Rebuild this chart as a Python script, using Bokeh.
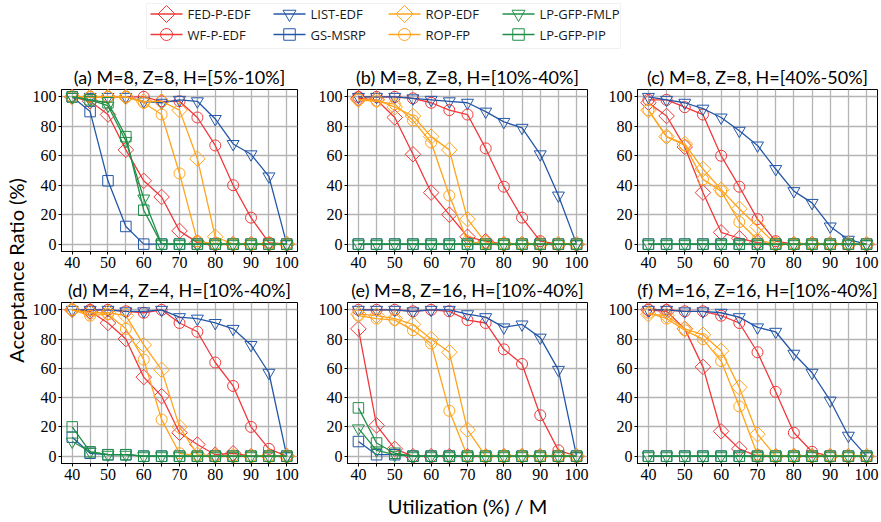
import math
from bokeh.plotting import figure
from bokeh.layouts import column, row
from bokeh.models import FixedTicker, Range1d, BoxAnnotation
from bokeh.embed import file_html
from bokeh.resources import INLINE
from bokeh.core.properties import value

# ---------------- data ----------------
utilization = [40, 45, 50, 55, 60, 65, 70, 75, 80, 85, 90, 95, 100]
x_tick_labels = [40, 50, 60, 70, 80, 90, 100]
x_minor_ticks = [45, 55, 65, 75, 85, 95]
y_tick_labels = [0, 20, 40, 60, 80, 100]

series_names = ["FED-P-EDF", "WF-P-EDF", "LIST-EDF", "GS-MSRP",
                "ROP-EDF", "ROP-FP", "LP-GFP-FMLP", "LP-GFP-PIP"]
panel_titles = ["(a) M=8, Z=8, H=[5%-10%]", "(b) M=8, Z=8, H=[10%-40%]",
                "(c) M=8, Z=8, H=[40%-50%]", "(d) M=4, Z=4, H=[10%-40%]",
                "(e) M=8, Z=16, H=[10%-40%]", "(f) M=16, Z=16, H=[10%-40%]"]

zeros = [0] * 13

# (a)
a_fed = [100, 97, 88, 64, 43, 32, 9, 1, 0, 0, 0, 0, 0]
a_wf = [100, 100, 100, 100, 100, 97, 97, 86, 67, 40, 18, 1, 0]
a_list = [100, 100, 100, 100, 97, 96, 98, 97, 85, 68, 61, 46, 0]
a_gs = [100, 90, 43, 12, 0, 0, 0, 0, 0, 0, 0, 0, 0]
a_rop_edf = [100, 100, 100, 100, 97, 97, 91, 58, 5, 0, 0, 0, 0]
a_rop_fp = [100, 100, 100, 100, 96, 88, 48, 2, 0, 0, 0, 0, 0]
a_fmlp = [100, 98, 94, 70, 31, 0, 0, 0, 0, 0, 0, 0, 0]
a_pip = [100, 98, 96, 73, 23, 0, 0, 0, 0, 0, 0, 0, 0]
# (b)
b_fed = [99, 98, 86, 61, 35, 20, 5, 2, 0, 0, 0, 0, 0]
b_wf = [100, 100, 100, 99, 96, 91, 88, 65, 39, 18, 2, 0, 0]
b_list = [100, 100, 100, 99, 98, 97, 96, 90, 83, 79, 61, 33, 0]
b_gs = zeros
b_rop_edf = [98, 98, 93, 87, 73, 64, 17, 1, 0, 0, 0, 0, 0]
b_rop_fp = [98, 97, 95, 84, 69, 33, 2, 0, 0, 0, 0, 0, 0]
b_fmlp = zeros
b_pip = zeros
# (c)
c_fed = [96, 87, 66, 35, 8, 4, 1, 0, 0, 0, 0, 0, 0]
c_wf = [98, 98, 93, 88, 60, 39, 17, 2, 0, 0, 0, 0, 0]
c_list = [100, 98, 96, 92, 86, 77, 67, 51, 36, 28, 12, 3, 0]
c_gs = zeros
c_rop_edf = [91, 73, 68, 51, 37, 24, 12, 0, 0, 0, 0, 0, 0]
c_rop_fp = [91, 73, 67, 44, 36, 15, 3, 0, 0, 0, 0, 0, 0]
c_fmlp = zeros
c_pip = zeros
# (d)
d_fed = [100, 99, 91, 80, 54, 41, 16, 8, 1, 2, 0, 0, 0]
d_wf = [100, 100, 100, 99, 98, 100, 91, 85, 64, 48, 20, 5, 0]
d_list = [100, 100, 100, 99, 99, 100, 95, 94, 91, 87, 76, 57, 0]
d_gs = [13, 2, 1, 1, 0, 0, 0, 0, 0, 0, 0, 0, 0]
d_rop_edf = [100, 98, 98, 96, 76, 59, 20, 1, 0, 0, 0, 0, 0]
d_rop_fp = [100, 96, 97, 87, 66, 25, 2, 0, 0, 0, 0, 0, 0]
d_fmlp = [10, 3, 1, 1, 0, 0, 0, 0, 0, 0, 0, 0, 0]
d_pip = [20, 3, 1, 1, 0, 0, 0, 0, 0, 0, 0, 0, 0]
# (e)
e_fed = [87, 21, 5, 0, 0, 0, 0, 0, 0, 0, 0, 0, 0]
e_wf = [100, 100, 100, 99, 100, 99, 93, 91, 73, 63, 28, 4, 0]
e_list = [100, 100, 100, 99, 100, 100, 97, 95, 88, 90, 81, 59, 0]
e_gs = [10, 1, 1, 0, 0, 0, 0, 0, 0, 0, 0, 0, 0]
e_rop_edf = [97, 96, 94, 90, 80, 71, 18, 0, 0, 0, 0, 0, 0]
e_rop_fp = [96, 94, 93, 86, 77, 31, 0, 0, 0, 0, 0, 0, 0]
e_fmlp = [19, 4, 1, 0, 0, 0, 0, 0, 0, 0, 0, 0, 0]
e_pip = [33, 9, 2, 0, 0, 0, 0, 0, 0, 0, 0, 0, 0]
# (f)
f_fed = [100, 99, 87, 61, 17, 5, 0, 0, 0, 0, 0, 0, 0]
f_wf = [100, 100, 99, 99, 96, 91, 71, 44, 16, 3, 0, 0, 0]
f_list = [100, 100, 99, 99, 98, 95, 88, 85, 70, 57, 38, 14, 0]
f_gs = zeros
f_rop_edf = [97, 96, 87, 83, 72, 47, 15, 0, 0, 0, 0, 0, 0]
f_rop_fp = [98, 94, 86, 80, 65, 34, 1, 0, 0, 0, 0, 0, 0]
f_fmlp = zeros
f_pip = zeros

panels = [
    [a_fed, a_wf, a_list, a_gs, a_rop_edf, a_rop_fp, a_fmlp, a_pip],
    [b_fed, b_wf, b_list, b_gs, b_rop_edf, b_rop_fp, b_fmlp, b_pip],
    [c_fed, c_wf, c_list, c_gs, c_rop_edf, c_rop_fp, c_fmlp, c_pip],
    [d_fed, d_wf, d_list, d_gs, d_rop_edf, d_rop_fp, d_fmlp, d_pip],
    [e_fed, e_wf, e_list, e_gs, e_rop_edf, e_rop_fp, e_fmlp, e_pip],
    [f_fed, f_wf, f_list, f_gs, f_rop_edf, f_rop_fp, f_fmlp, f_pip],
]

# ---------------- styles ----------------
RED = "#f0393b"
BLUE = "#2457a8"
ORANGE = "#ffa41c"
GREEN = "#1f8f47"
Q = math.pi / 4
styles = [  # color, marker, size, angle
    (RED, "square", 11, Q),
    (RED, "circle", 11, 0),
    (BLUE, "inverted_triangle", 12, 0),
    (BLUE, "square", 10.5, 0),
    (ORANGE, "square", 11, Q),
    (ORANGE, "circle", 11, 0),
    (GREEN, "inverted_triangle", 12, 0),
    (GREEN, "square", 10.5, 0),
]

TICK_FONT = "Liberation Serif"
SANS = "Lato"
GRID = "#b4b4b4"

FRAME_W = 240
FRAME_HS = [162, 161]
TOP_B = 27
BOT_B = 24
col_borders = [(28, 12), (38, 12), (38, 3)]
YLAB_W = 29
LEG_H = 62
XL_H = 34


def make_panel(title, data, bl, br, fh):
    p = figure(width=bl + FRAME_W + br, height=TOP_B + fh + BOT_B,
               x_range=Range1d(37, 103), y_range=Range1d(-5, 105),
               output_backend="svg", toolbar_location=None,
               min_border_left=bl, min_border_right=br,
               min_border_top=TOP_B, min_border_bottom=BOT_B)
    p.title.text = title
    p.title.align = "center"
    p.title.text_font = SANS
    p.title.text_font_size = "18px"
    p.title.text_font_style = "normal"
    p.title.text_color = "black"
    p.title.standoff = 3
    p.outline_line_color = "black"
    p.outline_line_width = 1
    p.outline_line_alpha = 1
    p.background_fill_color = "white"
    p.border_fill_color = "white"

    p.xaxis.ticker = FixedTicker(ticks=x_tick_labels, minor_ticks=x_minor_ticks)
    p.yaxis.ticker = FixedTicker(ticks=y_tick_labels)
    for ax in (p.xaxis, p.yaxis):
        ax.axis_line_color = "black"
        ax.major_tick_line_color = "black"
        ax.minor_tick_line_color = "black"
        ax.major_tick_in = 0
        ax.major_tick_out = 3
        ax.minor_tick_in = 0
        ax.minor_tick_out = 3
        ax.major_label_text_font = TICK_FONT
        ax.major_label_text_font_size = "16px"
        ax.major_label_text_color = "black"
        ax.major_label_standoff = 2
    p.yaxis.minor_tick_line_color = None

    p.xgrid.grid_line_color = GRID
    p.xgrid.minor_grid_line_color = GRID
    p.xgrid.grid_line_width = 1.3
    p.xgrid.minor_grid_line_width = 1.3
    p.ygrid.grid_line_color = GRID
    p.ygrid.grid_line_width = 1.3

    for (color, marker, size, angle), ys in zip(styles, data):
        p.line(utilization, ys, line_color=color, line_width=1.3)
        p.scatter(utilization, ys, marker=marker, size=size, angle=angle,
                  fill_color=None, line_color=color, line_width=1)
    return p


figs = []
for i, (title, data) in enumerate(zip(panel_titles, panels)):
    bl, br = col_borders[i % 3]
    figs.append(make_panel(title, data, bl, br, FRAME_HS[i // 3]))

grid_w = sum(bl + FRAME_W + br for bl, br in col_borders)
grid_h = sum(TOP_B + fh + BOT_B for fh in FRAME_HS)
TOTAL_W = YLAB_W + grid_w

# ---------------- legend figure (pixel-equal coordinates) ----------------
leg = figure(width=TOTAL_W, height=LEG_H, x_range=Range1d(0, TOTAL_W),
             y_range=Range1d(0, LEG_H), x_axis_type=None, y_axis_type=None,
             output_backend="svg", toolbar_location=None, min_border=0)
leg.outline_line_color = None
leg.add_layout(BoxAnnotation(left=146, right=620, bottom=14, top=59,
                             fill_color="white", fill_alpha=1,
                             line_color="#d4d4d4", line_width=1,
                             level="underlay"))
leg_col_x = [150, 273, 388, 502]
leg_row_y = [48.5, 28]
GLYPH_LEN = 32
for k, (name, (color, marker, size, angle)) in enumerate(zip(series_names, styles)):
    gx = leg_col_x[k // 2]
    gy = leg_row_y[k % 2]
    leg.segment(x0=[gx], y0=[gy], x1=[gx + GLYPH_LEN], y1=[gy],
                line_color=color, line_width=1.3)
    leg.scatter(x=[gx + GLYPH_LEN / 2], y=[gy], marker=marker, size=size + 1,
                angle=angle, fill_color=None, line_color=color, line_width=1)
    leg.text(x=[gx + GLYPH_LEN + 5], y=[gy], text=[name], text_align="left",
             text_baseline="middle", text_font=value("Open Sans"),
             text_font_size="13px", text_color="#1a1a1a")

# ---------------- axis label figures ----------------
ylab = figure(width=YLAB_W, height=grid_h, x_range=Range1d(0, YLAB_W),
              y_range=Range1d(0, grid_h), x_axis_type=None, y_axis_type=None,
              output_backend="svg", toolbar_location=None, min_border=0)
ylab.outline_line_color = None
ylab.text(x=[15], y=[grid_h - (270 - LEG_H)], text=["Acceptance Ratio (%)"],
          angle=math.pi / 2, text_align="center", text_baseline="middle",
          text_font=value(SANS), text_font_size="20px", text_color="black")

xlab = figure(width=TOTAL_W, height=XL_H, x_range=Range1d(0, TOTAL_W),
              y_range=Range1d(0, XL_H), x_axis_type=None, y_axis_type=None,
              output_backend="svg", toolbar_location=None, min_border=0)
xlab.outline_line_color = None
xlab.text(x=[467], y=[16], text=["Utilization (%) / M"],
          text_align="center", text_baseline="middle", text_font=value(SANS),
          text_font_size="20px", text_color="black")

layout = column(leg,
                row(ylab, column(row(*figs[:3]), row(*figs[3:]))),
                xlab)

open("out.html", "w").write(file_html(layout, INLINE))
